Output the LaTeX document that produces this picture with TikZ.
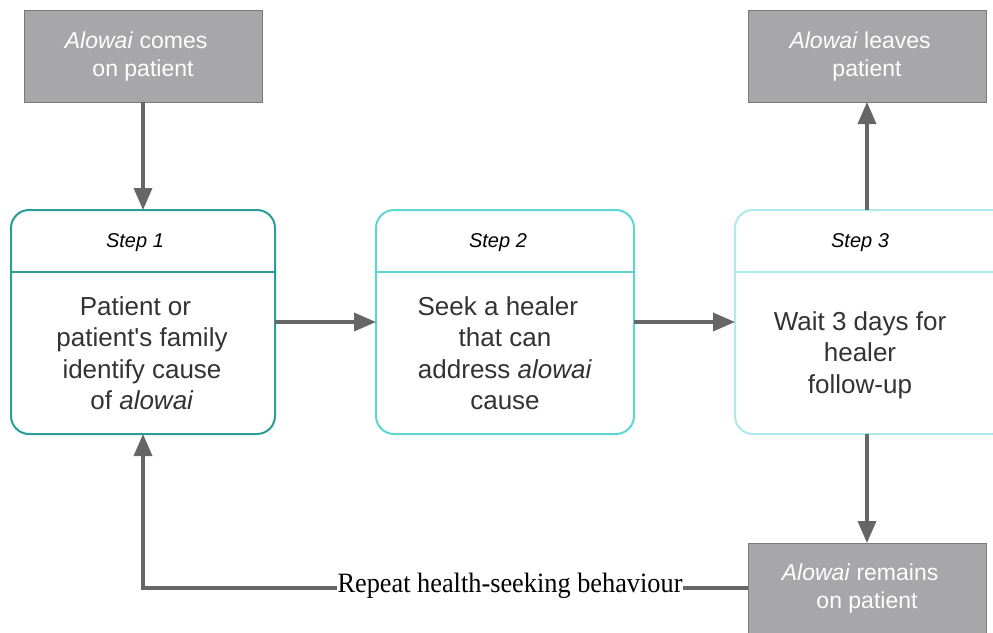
\documentclass[tikz,border=0pt]{standalone}
\usepackage{fontspec}
\setmainfont{Liberation Sans}
\newfontfamily\serifrm{Liberation Serif}
\usetikzlibrary{arrows.meta}
\definecolor{grayfill}{HTML}{A7A7A9}
\definecolor{grayline}{HTML}{7A7A7C}
\definecolor{arrowgray}{HTML}{666666}
\definecolor{tealA}{HTML}{2A9D9A}
\definecolor{tealB}{HTML}{5ED6D6}
\definecolor{tealC}{HTML}{AEE9EB}
\definecolor{textdark}{HTML}{333333}
\begin{document}
\begin{tikzpicture}[x=1pt,y=-1pt,
  graybox/.style={fill=grayfill,draw=grayline,line width=1pt},
  stepframe/.style={rounded corners=18pt,line width=2pt,fill=white},
  steptitle/.style={font=\fontsize{20}{24}\selectfont\itshape,text=black},
  steptext/.style={font=\fontsize{26}{31.5}\selectfont,text=textdark,align=center},
  graytext/.style={font=\fontsize{23}{28}\selectfont,text=white,align=center},
  conn/.style={draw=arrowgray,line width=3.5pt,-{Triangle[length=22pt,width=18pt]}},
  ]
\useasboundingbox (0,0) rectangle (993,632);
\begin{scope}
\clip (0,0) rectangle (993,632);
% gray boxes
\path[graybox] (24,10) rectangle (262,102);
\node[graytext] (comes) at (143,57) {\hspace*{-0.6em}\textit{Alowai} comes\\on patient};
\coordinate (comesB) at (143,102);
\path[graybox] (748,10) rectangle (986,102);
\node[graytext] (leaves) at (867,57) {\hspace*{-0.6em}\textit{Alowai} leaves\\patient};
\coordinate (leavesB) at (867,102);
\path[graybox] (748,543) rectangle (986,645);
\node[graytext] (remains) at (867,589) {\hspace*{-0.6em}\textit{Alowai} remains\\on patient};
\coordinate (remainsT) at (867,543);
\coordinate (remainsL) at (748,588);
% step boxes
\draw[stepframe,draw=tealA] (11,210) rectangle (275,434);
\draw[draw=tealA,line width=2pt] (11,272) -- (275,272);
\node[steptitle] (t1) at (135,243) {Step 1};
\node[steptext] (s1) at (142,353) {\hspace*{-0.5em}Patient or\\patient\textquotesingle s family\\identify cause\\of \textit{alowai}};
\coordinate (s1T) at (143,210);
\coordinate (s1R) at (275,322);
\coordinate (s1B) at (143,434);
\draw[stepframe,draw=tealB] (376,210) rectangle (634,434);
\draw[draw=tealB,line width=2pt] (376,272) -- (634,272);
\node[steptitle] (t2) at (498,243) {Step 2};
\node[steptext] (s2) at (505,353) {\hspace*{-0.55em}Seek a healer\\that can\\address \textit{alowai}\\cause};
\coordinate (s2L) at (376,322);
\coordinate (s2R) at (634,322);
\draw[stepframe,draw=tealC] (735,210) rectangle (1010,434);
\draw[draw=tealC,line width=2pt] (735,272) -- (1010,272);
\node[steptitle] (t3) at (860,243) {Step 3};
\node[steptext] (s3) at (860,355) {Wait 3 days for\\healer\\follow-up};
\coordinate (s3L) at (735,322);
\coordinate (s3T) at (867,210);
\coordinate (s3B) at (867,434);
% connectors
\draw[conn] (comesB) -- (s1T);
\draw[conn] (s1R) -- (s2L);
\draw[conn] (s2R) -- (s3L);
\draw[conn] (s3T) -- (leavesB);
\draw[conn] (s3B) -- (remainsT);
\draw[conn] (remainsL) -- (143,588) -- (s1B);
\node[fill=white,inner sep=1pt,font=\serifrm\fontsize{28}{32}\selectfont,text=black] (rep) at (510,586) {\scalebox{0.94}[1]{Repeat health-seeking behaviour}};
\end{scope}
\end{tikzpicture}
\end{document}
